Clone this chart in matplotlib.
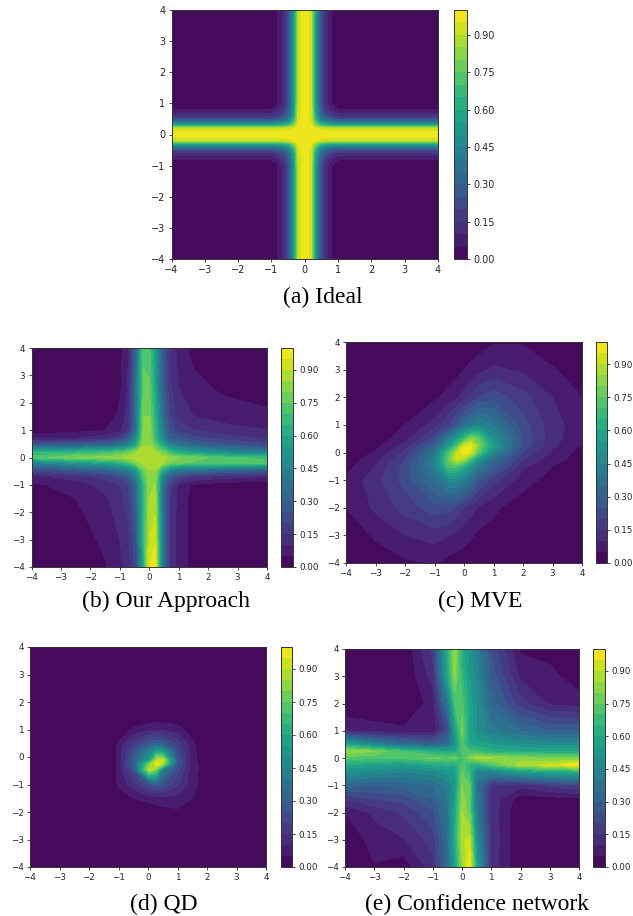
import numpy as np
import matplotlib
matplotlib.use("Agg")
import matplotlib.pyplot as plt

W, H = 633, 916

levels = np.arange(0, 1.001, 0.05)
axis_ticks = [-4, -3, -2, -1, 0, 1, 2, 3, 4]
cbar_ticks = [0.0, 0.15, 0.30, 0.45, 0.60, 0.75, 0.90]

# (a) Ideal
a_xy = [-4, -1, -0.8, -0.6, -0.45, -0.3, -0.2, 0, 0.2, 0.3, 0.45, 0.6, 0.8, 1, 4]
a_z = [
    [0, 0, .052, .13, .28, .58, .9, 1, .9, .58, .28, .13, .052, 0, 0],
    [0, 0, .052, .13, .28, .58, .9, 1, .9, .58, .28, .13, .052, 0, 0],
    [.052, .052, .101, .175, .317, .602, .905, 1, .905, .602, .317, .175, .101, .052, .052],
    [.13, .13, .175, .243, .374, .635, .913, 1, .913, .635, .374, .243, .175, .13, .13],
    [.28, .28, .317, .374, .482, .698, .928, 1, .928, .698, .482, .374, .317, .28, .28],
    [.58, .58, .602, .635, .698, .824, .958, 1, .958, .824, .698, .635, .602, .58, .58],
    [.9, .9, .905, .913, .928, .958, .99, 1, .99, .958, .928, .913, .905, .9, .9],
    [1, 1, 1, 1, 1, 1, 1, 1, 1, 1, 1, 1, 1, 1, 1],
    [.9, .9, .905, .913, .928, .958, .99, 1, .99, .958, .928, .913, .905, .9, .9],
    [.58, .58, .602, .635, .698, .824, .958, 1, .958, .824, .698, .635, .602, .58, .58],
    [.28, .28, .317, .374, .482, .698, .928, 1, .928, .698, .482, .374, .317, .28, .28],
    [.13, .13, .175, .243, .374, .635, .913, 1, .913, .635, .374, .243, .175, .13, .13],
    [.052, .052, .101, .175, .317, .602, .905, 1, .905, .602, .317, .175, .101, .052, .052],
    [0, 0, .052, .13, .28, .58, .9, 1, .9, .58, .28, .13, .052, 0, 0],
    [0, 0, .052, .13, .28, .58, .9, 1, .9, .58, .28, .13, .052, 0, 0],
]

# (b) Our Approach
b_xy = [-4, -2.5, -1.5, -1, -0.7, -0.45, -0.2, 0, 0.2, 0.45, 0.7, 1, 1.5, 2.5, 4]
b_z = [
    [0, 0, .045, .08, .13, .22, .6, .95, .98, .4, .14, .08, .03, 0, 0],
    [0, .03, .07, .11, .15, .27, .65, .88, .92, .38, .14, .08, .03, 0, 0],
    [0, .05, .09, .13, .18, .32, .65, .85, .87, .35, .15, .08, .03, 0, 0],
    [.04, .07, .12, .15, .2, .35, .65, .84, .85, .38, .18, .09, .04, .02, .01],
    [.08, .13, .17, .22, .28, .42, .72, .84, .85, .45, .28, .2, .15, .12, .1],
    [.22, .27, .32, .37, .43, .55, .78, .85, .85, .62, .45, .4, .37, .33, .3],
    [.42, .52, .58, .63, .7, .8, .87, .88, .88, .85, .8, .76, .74, .74, .72],
    [.72, .8, .82, .84, .87, .88, .89, .9, .89, .87, .84, .8, .78, .72, .68],
    [.65, .65, .68, .72, .76, .84, .88, .88, .85, .78, .68, .6, .55, .47, .4],
    [.28, .3, .33, .38, .45, .6, .85, .85, .75, .6, .45, .38, .33, .27, .22],
    [.09, .1, .13, .18, .28, .48, .83, .84, .68, .46, .3, .26, .22, .18, .14],
    [.02, .03, .05, .08, .16, .37, .82, .83, .66, .42, .24, .18, .15, .12, .1],
    [0, 0, .02, .06, .13, .36, .8, .8, .63, .36, .2, .13, .1, .08, .06],
    [0, 0, 0, .04, .11, .36, .76, .76, .58, .3, .16, .1, .07, .04, .03],
    [0, 0, 0, .03, .1, .32, .74, .72, .53, .28, .14, .08, .03, 0, 0],
]

# (c) MVE
c_x = [-4, -3, -2, -1, -0.5, -0.25, 0, 0.25, 0.5, 1, 2, 3, 4]
c_y = [-4, -3, -2, -1, -0.5, -0.25, 0, 0.25, 0.5, 1, 2, 3, 4]
c_z = [
    [0, .01, .04, .055, .03, .025, .02, .017, .015, .01, 0, 0, 0],
    [0, .06, .1, .12, .1, .085, .07, .055, .04, .03, .01, 0, 0],
    [.05, .11, .17, .23, .22, .19, .15, .12, .09, .06, .02, .01, 0],
    [.06, .13, .22, .36, .47, .47, .42, .34, .26, .17, .07, .03, .01],
    [.03, .1, .22, .42, .72, .72, .62, .5, .4, .3, .11, .05, .02],
    [.02, .08, .2, .42, .78, .93, .85, .68, .52, .35, .15, .07, .025],
    [.01, .055, .16, .38, .72, .9, 1.0, .93, .72, .45, .2, .09, .03],
    [.005, .035, .12, .3, .55, .7, .93, .96, .8, .55, .23, .11, .045],
    [0, .02, .08, .22, .42, .55, .68, .82, .75, .5, .24, .12, .06],
    [0, .01, .05, .12, .2, .27, .35, .4, .45, .4, .22, .12, .07],
    [0, 0, .01, .04, .07, .09, .12, .16, .2, .23, .17, .1, .05],
    [0, 0, 0, .01, .02, .03, .05, .065, .08, .11, .09, .055, .02],
    [0, 0, 0, 0, .005, .007, .01, .015, .02, .045, .045, .01, 0],
]

# (d) QD
d_x = [-4, -1.5, -1, -0.5, 0.05, 0.3, 0.5, 1, 1.5, 2, 4]
d_y = [-4, -2, -1.5, -1, -0.45, -0.25, -0.1, 0.2, 0.5, 1, 1.5, 4]
d_z = [
    [0, 0, 0, 0, 0, 0, 0, 0, 0, 0, 0],
    [0, 0, 0, 0, .01, .02, .03, .04, .03, 0, 0],
    [0, 0, .03, .05, .07, .08, .08, .08, .05, 0, 0],
    [0, 0, .055, .13, .24, .27, .25, .16, .07, .01, 0],
    [0, 0, .06, .24, .92, .78, .42, .22, .07, .02, 0],
    [0, 0, .06, .28, .78, 1.0, .88, .25, .07, .02, 0],
    [0, 0, .06, .28, .55, .88, .92, .25, .065, .01, 0],
    [0, 0, .06, .24, .45, .6, .55, .22, .065, .01, 0],
    [0, 0, .055, .17, .27, .3, .28, .18, .06, 0, 0],
    [0, 0, .01, .06, .08, .09, .09, .07, .02, 0, 0],
    [0, 0, 0, 0, .01, .01, .01, .01, 0, 0, 0],
    [0, 0, 0, 0, 0, 0, 0, 0, 0, 0, 0],
]

# (e) Confidence network
e_x = [-4, -3, -2, -1, -0.5, -0.25, 0, 0.25, 0.5, 1, 2, 3, 4]
e_y = [-4, -3, -2, -1.5, -1, -0.5, -0.25, 0, 0.25, 0.5, 1, 2, 3, 4]
e_z = [
    [0, .045, .02, .13, .35, .55, .82, 1.0, .58, .13, 0, 0, 0],
    [0, .075, .095, .17, .35, .6, .88, .92, .5, .14, 0, 0, 0],
    [.05, .11, .16, .24, .38, .58, .85, .78, .42, .13, 0, 0, 0],
    [.15, .2, .22, .3, .4, .55, .82, .76, .4, .14, .02, .03, .04],
    [.33, .3, .32, .35, .42, .52, .8, .75, .38, .15, .12, .16, .2],
    [.5, .48, .45, .48, .52, .55, .75, .68, .45, .45, .55, .6, .62],
    [.6, .57, .55, .6, .62, .6, .72, .65, .62, .72, .88, .92, 1.0],
    [.72, .72, .72, .76, .74, .78, .68, .8, .86, .85, .82, .78, .78],
    [.85, .8, .7, .62, .58, .58, .72, .7, .68, .62, .6, .6, .6],
    [.6, .45, .35, .3, .35, .5, .72, .6, .58, .55, .5, .48, .47],
    [.1, .075, .06, .06, .22, .55, .78, .58, .5, .42, .35, .3, .3],
    [0, 0, 0, .07, .38, .7, .72, .58, .5, .33, .17, .09, .075],
    [0, 0, 0, .12, .58, .82, .66, .55, .47, .28, .09, .065, .02],
    [0, 0, 0, .17, .62, .85, .62, .52, .43, .24, .04, .03, 0],
]

# label, x, y, z, axes box and colorbar box in pixels, caption centre and baseline, tick size
panels = [
    ("(a) Ideal", a_xy, a_xy, a_z, (171.5, 438, 10, 259), (454, 467), (323, 303), 7),
    ("(b) Our Approach", b_xy, b_xy, b_z, (31.5, 267, 348, 567), (281, 293), (166.5, 607), 6.3),
    ("(c) MVE", c_x, c_y, c_z, (346, 582, 342, 563), (596, 607), (480, 607), 6.3),
    ("(d) QD", d_x, d_y, d_z, (30, 266, 647, 867), (281, 292), (164, 910), 6.3),
    ("(e) Confidence network", e_x, e_y, e_z, (345, 579, 649, 867), (593, 605), (477, 910), 6.3),
]


def box(left, right, top, bottom):
    return [left / W, 1 - bottom / H, (right - left) / W, (bottom - top) / H]


fig = plt.figure(figsize=(W / 100, H / 100), dpi=100)

for label, x, y, z, ax_box, cb_box, cap, tick_size in panels:
    left, right, top, bottom = ax_box
    ax = fig.add_axes(box(left, right, top, bottom))
    cs = ax.contourf(x, y, np.array(z), levels=levels, cmap="viridis", vmin=0, vmax=1)
    ax.set_xticks(axis_ticks)
    ax.set_yticks(axis_ticks)
    ax.tick_params(labelsize=tick_size, length=2.5, width=0.6, pad=2, colors="#262626")
    for s in ax.spines.values():
        s.set_linewidth(0.7)
        s.set_color("#333333")

    cax = fig.add_axes(box(cb_box[0], cb_box[1], top, bottom))
    cb = fig.colorbar(cs, cax=cax, ticks=cbar_ticks, format="%.2f")
    cb.ax.tick_params(labelsize=tick_size, length=2.5, width=0.6, pad=2, colors="#262626")
    cb.outline.set_linewidth(0.7)
    cb.outline.set_edgecolor("#333333")

    fig.text(cap[0] / W, 1 - cap[1] / H, label, ha="center", va="baseline",
             family="Liberation Serif", fontsize=17, color="black")

fig.savefig("out.png", dpi=100)
